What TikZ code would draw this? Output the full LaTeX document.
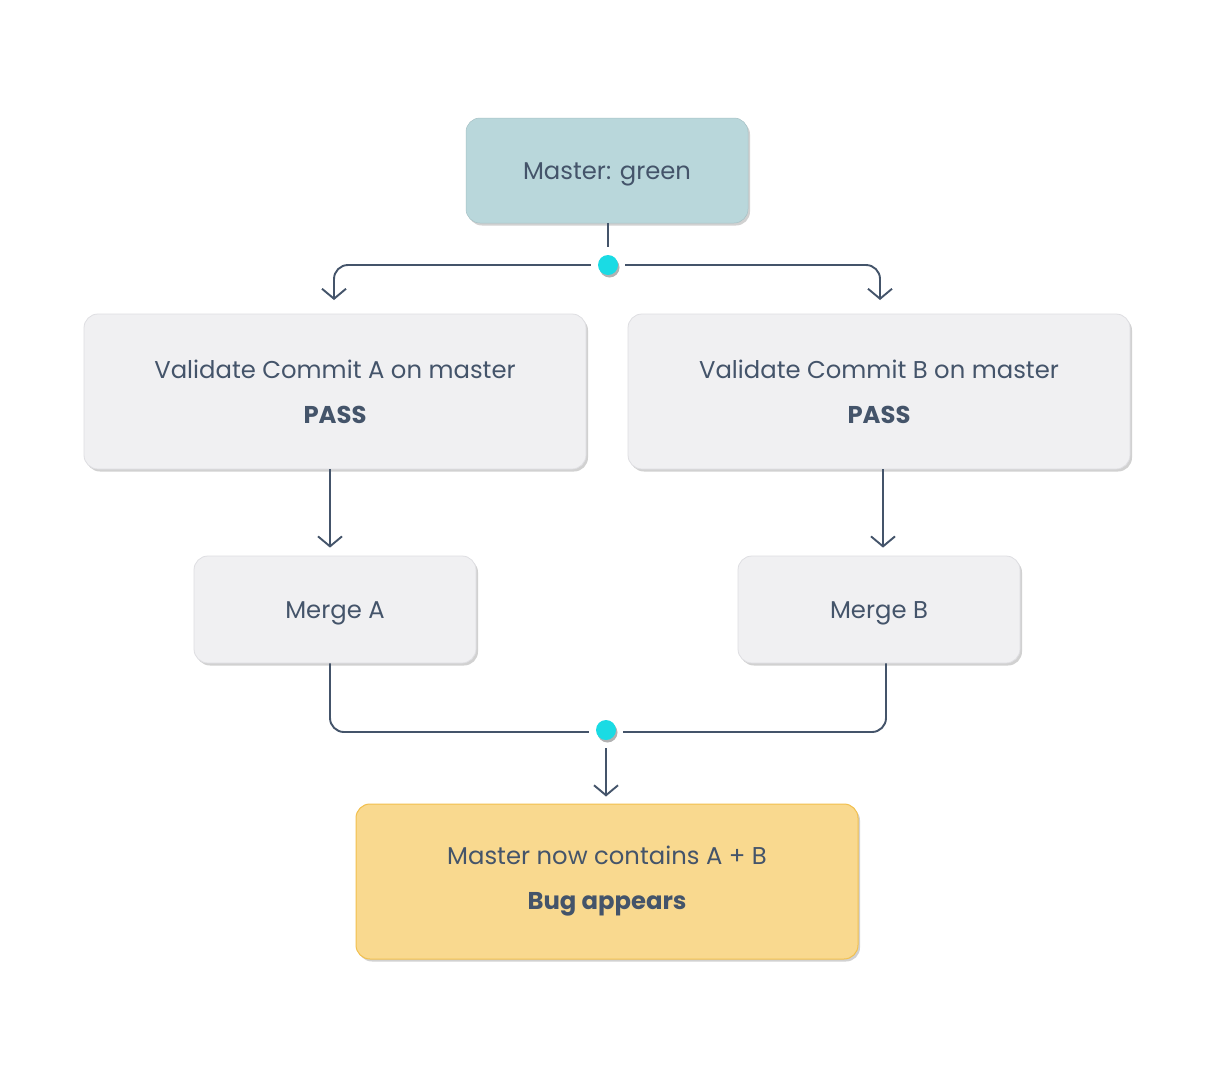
\documentclass[tikz,border=0pt]{standalone}
\usepackage{fontspec}
\setmainfont{Poppins}
\usetikzlibrary{arrows.meta,shadows,calc}
\definecolor{ink}{RGB}{68,84,106}
\definecolor{tealfill}{RGB}{185,215,219}
\definecolor{greyfill}{RGB}{240,240,242}
\definecolor{greyline}{RGB}{222,222,226}
\definecolor{yelfill}{RGB}{249,217,143}
\definecolor{yelline}{RGB}{242,192,78}
\definecolor{dotcyan}{RGB}{26,219,228}
\tikzset{
  box/.style={rounded corners=14pt, inner sep=0pt, text=ink, align=center,
    font=\fontsize{24.3}{45}\selectfont,
    drop shadow={shadow xshift=2pt, shadow yshift=-2.5pt, opacity=0.18, fill=black}},
  greybox/.style={box, fill=greyfill, draw=greyline, line width=0.8pt},
  oneline/.style={text height=17.5pt, text depth=0pt},
  conn/.style={draw=ink, line width=1.9pt, rounded corners=14pt},
  arr/.style={-{Straight Barb[length=10pt,width=24pt,line width=1.9pt]}},
  jdot/.style={circle, fill=dotcyan, minimum size=20pt, inner sep=0pt,
    drop shadow={shadow xshift=1.5pt, shadow yshift=-2.5pt, opacity=0.3, fill=black}},
}
\begin{document}
\begin{tikzpicture}[x=1pt,y=-1pt]
\useasboundingbox[fill=white] (0,0) rectangle (1214,1077);

\node[box, oneline, fill=tealfill, draw=tealfill!90!black, line width=0.5pt, minimum width=282pt, minimum height=105pt] (master) at (607,170.5) {Master: green};
\node[greybox, minimum width=502pt, minimum height=155pt] (va) at (335,391.5) {Validate Commit A on master\\\textbf{PASS}};
\node[greybox, minimum width=502pt, minimum height=155pt] (vb) at (879,391.5) {Validate Commit B on master\\\textbf{PASS}};
\node[greybox, oneline, minimum width=282pt, minimum height=107pt] (ma) at (335,609.5) {Merge A};
\node[greybox, oneline, minimum width=282pt, minimum height=107pt] (mb) at (879,609.5) {Merge B};
\node[box, fill=yelfill, draw=yelline, line width=1pt, minimum width=502pt, minimum height=155pt] (bug) at (607,881.5) {Master now contains A + B\\\textbf{Bug appears}};

\node[jdot] (d1) at (608,265) {};
\node[jdot] (d2) at (606,730) {};

% top fan-out
\draw[conn] (master.south -| d1) -- ([yshift=8pt]d1.north);
\coordinate (ta) at (334,300);
\coordinate (tb) at (880,300);
\draw[conn, arr] ([xshift=-7pt]d1.west) -| (ta);
\draw[conn, arr] ([xshift=7pt]d1.east) -| (tb);

% validate to merge
\draw[conn, arr] ([xshift=-5pt]va.south) -- ([xshift=-5pt,yshift=8pt]ma.north);
\draw[conn, arr] ([xshift=4pt]vb.south) -- ([xshift=4pt,yshift=8pt]mb.north);

% merge to join
\draw[conn] ([xshift=-5pt]ma.south) |- ([xshift=-7pt,yshift=-2pt]d2.west);
\draw[conn] ([xshift=7pt]mb.south) |- ([xshift=7pt,yshift=-2pt]d2.east);
\draw[conn, arr] ([yshift=-8pt]d2.south) -- ([yshift=7pt]bug.north -| d2);
\end{tikzpicture}
\end{document}
